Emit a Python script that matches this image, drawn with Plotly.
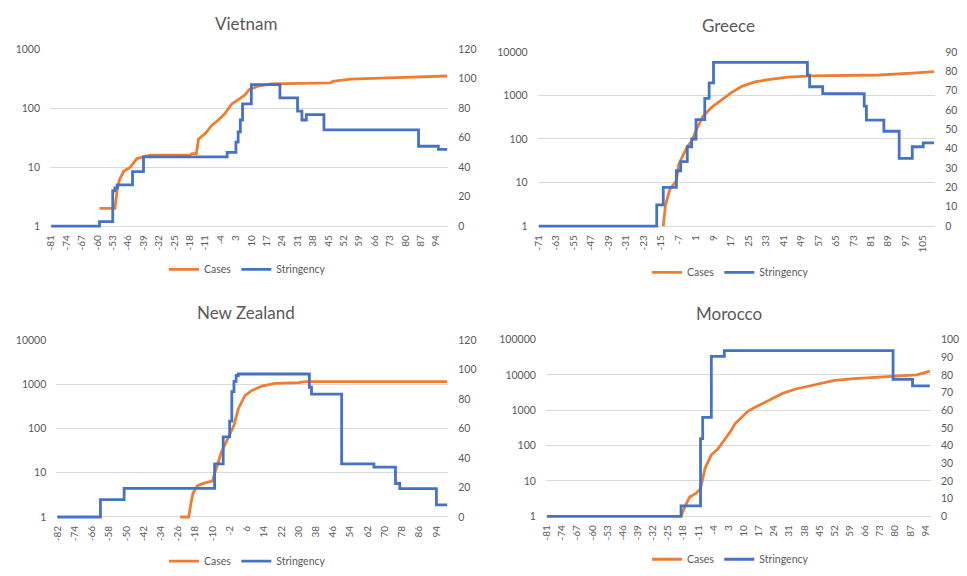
import plotly.graph_objects as go

W, H = 967, 576
ORANGE = "#ED7D31"
BLUE = "#4472C4"
TXT = "#595959"
GRID = "#D9D9D9"
FONT = "Lato"

# ---------------- data ----------------
# Vietnam
vn_case_day = [-59, -52, -51, -50, -48, -45, -42, -39, -36, -18, -17, -15, -14, -11, -8, -5, -2, 1, 4, 7, 9, 13, 19, 24, 46, 47, 55, 76, 91, 99]
vn_case_val = [2, 2, 4, 6, 8.5, 10, 14, 15, 16, 16, 17, 17, 30, 37, 51, 63, 81, 117, 141, 166, 207, 236, 259, 262, 268, 285, 312, 329, 345, 352]
vn_str_day = [-81, -59, -53, -52, -51, -44, -39, -1, 3, 4, 5, 6, 10, 23, 31, 33, 35, 43, 86, 95, 99]
vn_str_val = [0, 3, 24, 26, 28, 37, 47, 50, 57, 64, 72, 83, 96, 87, 78, 72, 75.6, 65.3, 54.2, 52, 52]
vn_ticks = [-81, -74, -67, -60, -53, -46, -39, -32, -25, -18, -11, -4, 3, 10, 17, 24, 31, 38, 45, 52, 59, 66, 73, 80, 87, 94]

# Greece
gr_case_day = [-14, -13, -11, -8, -7, -6, -3, -1, 1, 4, 8, 13, 17, 22, 28, 34, 43, 54, 69, 85, 100, 110]
gr_case_val = [1, 3, 7, 11, 25, 33, 66, 90, 157, 324, 528, 815, 1150, 1620, 2040, 2300, 2640, 2800, 2880, 2950, 3250, 3530]
gr_str_day = [-71, -17, -14, -8, -6, -3, -1, 1, 5, 7, 9, 52, 53, 59, 78, 79, 87, 94, 100, 105, 110]
gr_str_val = [0, 11, 20, 28.6, 33.3, 41, 45, 55, 66, 74, 84.6, 78, 72, 68.4, 62, 54.8, 49, 35, 41, 43, 43]
gr_ticks = [-71, -63, -55, -47, -39, -31, -23, -15, -7, 1, 9, 17, 25, 33, 41, 49, 57, 65, 73, 81, 89, 97, 105]

# New Zealand
nz_case_day = [-25, -21, -20, -19, -17, -13, -10, -8, -6, -4, -2, 0, 2, 5, 8, 13, 19, 30, 33, 99]
nz_case_val = [1, 1, 2, 3.5, 5.1, 6, 6.5, 12.9, 28, 45, 70, 118, 278, 550, 712, 915, 1050, 1090, 1150, 1150]
nz_str_day = [-82, -62, -51, -9, -5, -2, -1, 0, 1, 2, 35, 36, 50, 65, 75, 77, 94, 99]
nz_str_val = [0, 11.8, 19.4, 36, 54.4, 65, 85, 92, 96, 97, 88, 83.3, 36, 33.8, 22.7, 19.3, 8.2, 8.2]
nz_ticks = [-82, -74, -66, -58, -50, -42, -34, -26, -18, -10, -2, 6, 14, 22, 30, 38, 46, 54, 62, 70, 78, 86, 94]

# Morocco
ma_case_day = [-19, -17, -15, -12, -10, -9, -8, -7, -5, -2, 0, 2, 4, 6, 9, 12, 15, 18, 21, 25, 28, 34, 43, 52, 61, 75, 83, 90, 96]
ma_case_val = [1, 2, 3.5, 4.5, 6, 12, 22, 30, 55, 80, 120, 170, 260, 420, 650, 950, 1200, 1500, 1800, 2400, 3000, 4000, 5400, 7000, 7900, 8700, 9100, 10000, 12900]
ma_str_day = [-81, -19, -10, -9, -5, 1, 79, 88, 96]
ma_str_val = [0, 5.9, 44, 56, 90.5, 93.8, 77.5, 73.8, 73.8]
ma_ticks = [-81, -74, -67, -60, -53, -46, -39, -32, -25, -18, -11, -4, 3, 10, 17, 24, 31, 38, 45, 52, 59, 66, 73, 80, 87, 94]

panels = [
    dict(name="Vietnam", cd=vn_case_day, cv=vn_case_val, sd=vn_str_day, sv=vn_str_val, ticks=vn_ticks,
         xr=(-81.5, 99.5), ly=(0, 3), ry=(0, 120), rdt=20,
         px=(44.3, 445), py=(44, 224), tx=242, ty=18, lgx=243, lgy=268),
    dict(name="Greece", cd=gr_case_day, cv=gr_case_val, sd=gr_str_day, sv=gr_str_val, ticks=gr_ticks,
         xr=(-71.5, 110.5), ly=(0, 4), ry=(0, 90), rdt=10,
         px=(535, 935), py=(46.7, 224), tx=727, ty=20, lgx=729, lgy=271),
    dict(name="New Zealand", cd=nz_case_day, cv=nz_case_val, sd=nz_str_day, sv=nz_str_val, ticks=nz_ticks,
         xr=(-82.5, 99.5), ly=(0, 4), ry=(0, 120), rdt=20,
         px=(50.6, 445), py=(340, 520), tx=242, ty=312, lgx=243, lgy=565),
    dict(name="Morocco", cd=ma_case_day, cv=ma_case_val, sd=ma_str_day, sv=ma_str_val, ticks=ma_ticks,
         xr=(-81.5, 96.5), ly=(0, 5), ry=(0, 100), rdt=10,
         px=(543.2, 930.7), py=(339.5, 519.3), tx=728, ty=313, lgx=729, lgy=563),
]

fig = go.Figure()
layout = dict(width=W, height=H, margin=dict(l=0, r=0, t=0, b=0),
              paper_bgcolor="white", plot_bgcolor="white",
              font=dict(family=FONT, color=TXT), showlegend=True)
annotations = []
PAD = 2.0  # px extension below the baseline so the 0 line is not clipped

for i, p in enumerate(panels):
    k = i + 1
    xa = "xaxis" if k == 1 else f"xaxis{k}"
    xr_ = "x" if k == 1 else f"x{k}"
    ya_n = 2 * k - 1
    yb_n = 2 * k
    ya = "yaxis" if ya_n == 1 else f"yaxis{ya_n}"
    yr_ = "y" if ya_n == 1 else f"y{ya_n}"
    yb = f"yaxis{yb_n}"
    ybr = f"y{yb_n}"
    lg = "legend" if k == 1 else f"legend{k}"

    x0, x1 = p["px"]
    top, bot = p["py"]
    h = bot - top
    dom_x = [x0 / W, x1 / W]
    dom_y = [1 - (bot + PAD) / H, 1 - top / H]
    lo, hi = p["ly"]
    llo = lo - (hi - lo) * PAD / h
    rlo, rhi = p["ry"]
    rrlo = rlo - (rhi - rlo) * PAD / h

    layout[xa] = dict(domain=dom_x, anchor=yr_, range=list(p["xr"]), tickmode="array",
                      tickvals=p["ticks"], ticktext=[str(t) for t in p["ticks"]],
                      tickangle=-90, showgrid=False, zeroline=False, showline=False,
                      ticks="", ticklabelstandoff=4, tickfont=dict(size=10, color=TXT, family=FONT))
    lv = [10 ** e for e in range(lo, hi + 1)]
    layout[ya] = dict(domain=dom_y, anchor=xr_, type="log", range=[llo, hi],
                      tickmode="array", tickvals=lv, ticktext=[str(v) for v in lv],
                      showgrid=True, gridcolor=GRID, gridwidth=1, zeroline=False, showline=False,
                      ticks="", ticklabelstandoff=9, tickfont=dict(size=10.5, color=TXT, family=FONT))
    layout[yb] = dict(domain=dom_y, anchor=xr_, overlaying=yr_, side="right", range=[rrlo, rhi],
                      tickmode="linear", tick0=0, dtick=p["rdt"], showgrid=False, zeroline=False,
                      showline=False, ticks="", ticklabelstandoff=9,
                      tickfont=dict(size=10.5, color=TXT, family=FONT))
    layout[lg] = dict(orientation="h", x=p["lgx"] / W, y=1 - p["lgy"] / H, xanchor="center",
                      yanchor="middle", font=dict(size=10.5, color=TXT, family=FONT),
                      bgcolor="rgba(0,0,0,0)", itemwidth=30, tracegroupgap=0)

    fig.add_trace(go.Scatter(x=p["cd"], y=p["cv"], mode="lines", name="Cases",
                             line=dict(color=ORANGE, width=2.8), xaxis=xr_, yaxis=yr_, legend=lg))
    fig.add_trace(go.Scatter(x=p["sd"], y=p["sv"], mode="lines", name="Stringency",
                             line=dict(color=BLUE, width=2.8, shape="hv"), xaxis=xr_, yaxis=ybr, legend=lg))

    annotations.append(dict(text=p["name"], x=p["tx"] / W, y=1 - p["ty"] / H, xref="paper", yref="paper",
                            xanchor="center", yanchor="middle", showarrow=False,
                            font=dict(size=17, color=TXT, family=FONT)))

layout["annotations"] = annotations
fig.update_layout(**layout)
fig.write_html("out.html", config={"displayModeBar": False},
               post_script="document.body.style.margin='0';document.body.style.overflow='hidden';")
